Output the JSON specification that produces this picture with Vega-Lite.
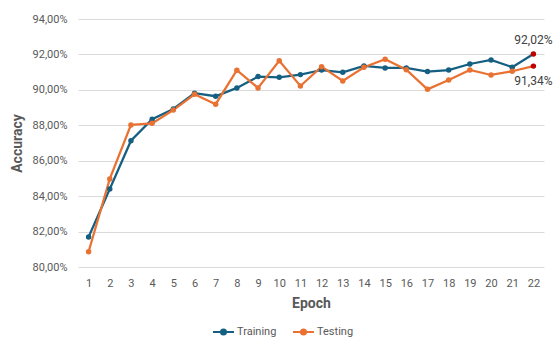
{
  "$schema": "https://vega.github.io/schema/vega-lite/v6.json",
  "autosize": "none",
  "width": 466,
  "height": 248,
  "padding": {"left": 78, "top": 19, "right": 10, "bottom": 73},
  "config": {
    "locale": {"number": {"decimal": ",", "thousands": ".", "grouping": [3], "currency": ["", "€"]}},
    "font": "Roboto",
    "view": {"stroke": null},
    "axis": {"labelColor": "#595959", "titleColor": "#595959", "labelFontSize": 11, "titleFontSize": 14, "titleFontWeight": "bold"}
  },
  "data": {"values": [
    {"epoch": 1, "series": "Training", "acc": 0.8169},
    {"epoch": 2, "series": "Training", "acc": 0.8440},
    {"epoch": 3, "series": "Training", "acc": 0.8713},
    {"epoch": 4, "series": "Training", "acc": 0.8834},
    {"epoch": 5, "series": "Training", "acc": 0.8892},
    {"epoch": 6, "series": "Training", "acc": 0.8981},
    {"epoch": 7, "series": "Training", "acc": 0.8964},
    {"epoch": 8, "series": "Training", "acc": 0.9011},
    {"epoch": 9, "series": "Training", "acc": 0.9075},
    {"epoch": 10, "series": "Training", "acc": 0.9071},
    {"epoch": 11, "series": "Training", "acc": 0.9086},
    {"epoch": 12, "series": "Training", "acc": 0.9112},
    {"epoch": 13, "series": "Training", "acc": 0.9099},
    {"epoch": 14, "series": "Training", "acc": 0.9135},
    {"epoch": 15, "series": "Training", "acc": 0.9124},
    {"epoch": 16, "series": "Training", "acc": 0.9124},
    {"epoch": 17, "series": "Training", "acc": 0.9103},
    {"epoch": 18, "series": "Training", "acc": 0.9112},
    {"epoch": 19, "series": "Training", "acc": 0.9146},
    {"epoch": 20, "series": "Training", "acc": 0.9169},
    {"epoch": 21, "series": "Training", "acc": 0.9128},
    {"epoch": 22, "series": "Training", "acc": 0.9202},
    {"epoch": 1, "series": "Testing", "acc": 0.8086},
    {"epoch": 2, "series": "Testing", "acc": 0.8497},
    {"epoch": 3, "series": "Testing", "acc": 0.8802},
    {"epoch": 4, "series": "Testing", "acc": 0.8811},
    {"epoch": 5, "series": "Testing", "acc": 0.8886},
    {"epoch": 6, "series": "Testing", "acc": 0.8975},
    {"epoch": 7, "series": "Testing", "acc": 0.8919},
    {"epoch": 8, "series": "Testing", "acc": 0.9111},
    {"epoch": 9, "series": "Testing", "acc": 0.9011},
    {"epoch": 10, "series": "Testing", "acc": 0.9164},
    {"epoch": 11, "series": "Testing", "acc": 0.9022},
    {"epoch": 12, "series": "Testing", "acc": 0.9131},
    {"epoch": 13, "series": "Testing", "acc": 0.9050},
    {"epoch": 14, "series": "Testing", "acc": 0.9128},
    {"epoch": 15, "series": "Testing", "acc": 0.9173},
    {"epoch": 16, "series": "Testing", "acc": 0.9114},
    {"epoch": 17, "series": "Testing", "acc": 0.9003},
    {"epoch": 18, "series": "Testing", "acc": 0.9056},
    {"epoch": 19, "series": "Testing", "acc": 0.9112},
    {"epoch": 20, "series": "Testing", "acc": 0.9084},
    {"epoch": 21, "series": "Testing", "acc": 0.9105},
    {"epoch": 22, "series": "Testing", "acc": 0.9134}
  ]},
  "encoding": {
    "x": {"field": "epoch", "type": "ordinal", "scale": {"type": "point", "padding": 0.5},
      "axis": {"title": "Epoch", "labelAngle": 0, "grid": false, "ticks": false, "domain": false, "labelPadding": 10, "titlePadding": 8}},
    "y": {"field": "acc", "type": "quantitative", "scale": {"domain": [0.80, 0.94], "nice": false, "zero": false},
      "axis": {"title": "Accuracy", "format": ".2%", "values": [0.80, 0.82, 0.84, 0.86, 0.88, 0.90, 0.92, 0.94], "grid": true, "gridColor": "#D9D9D9", "gridWidth": 1, "ticks": false, "domain": false, "labelPadding": 11, "titlePadding": 8}}
  },
  "layer": [
    {
      "mark": {"type": "line", "strokeWidth": 2.25},
      "encoding": {
        "color": {"field": "series", "type": "nominal", "scale": {"domain": ["Training", "Testing"], "range": ["#156082", "#E97132"]},
          "legend": {"title": null, "orient": "none", "legendX": 134, "legendY": 301, "direction": "horizontal",
            "symbolType": "M -1 0 L 1 0 M -0.24 0 A 0.24 0.24 0 1 1 0.24 0 A 0.24 0.24 0 1 1 -0.24 0 Z",
            "symbolSize": 441, "symbolStrokeWidth": 2, "labelFontSize": 11, "labelColor": "#595959", "labelOffset": 2, "columnPadding": 12,
            "encode": {"symbols": {"update": {"stroke": {"field": "value", "scale": "color"}, "strokeWidth": {"value": 2}}}}}}
      }
    },
    {
      "mark": {"type": "point", "filled": true, "size": 30, "opacity": 1},
      "encoding": {
        "color": {"condition": {"test": "datum.epoch == 22", "value": "#C00000"}, "field": "series", "type": "nominal", "legend": null}
      }
    },
    {
      "transform": [{"filter": "datum.epoch == 22 && datum.series == 'Training'"}],
      "mark": {"type": "text", "dy": -14, "fontSize": 12, "color": "#404040"},
      "encoding": {"text": {"field": "acc", "type": "quantitative", "format": ".2%"}}
    },
    {
      "transform": [{"filter": "datum.epoch == 22 && datum.series == 'Testing'"}],
      "mark": {"type": "text", "dy": 15, "fontSize": 12, "color": "#404040"},
      "encoding": {"text": {"field": "acc", "type": "quantitative", "format": ".2%"}}
    }
  ]
}
